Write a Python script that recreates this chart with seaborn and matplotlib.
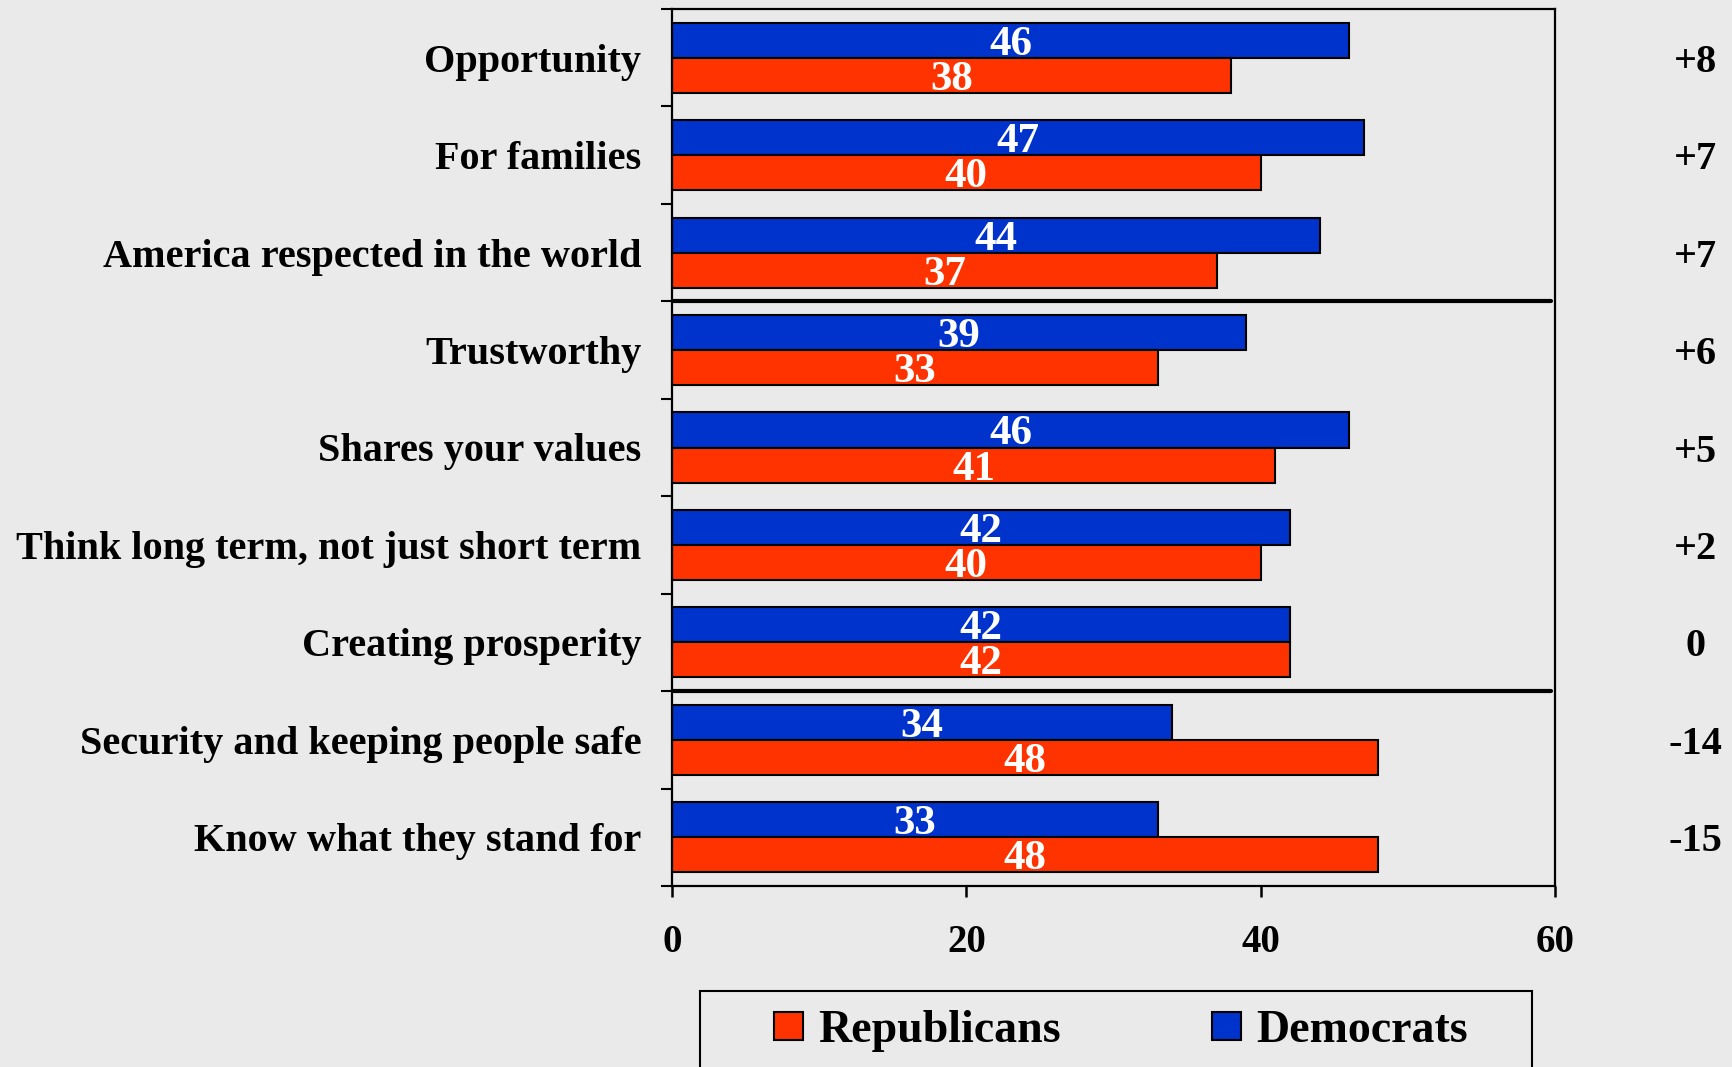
import pandas as pd
import seaborn as sns
import matplotlib.pyplot as plt
from matplotlib.patches import Patch, Rectangle
from matplotlib.ticker import FixedLocator

CATEGORIES = ["Opportunity", "For families", "America respected in the world",
              "Trustworthy", "Shares your values", "Think long term, not just short term",
              "Creating prosperity", "Security and keeping people safe", "Know what they stand for"]
DEMOCRATS = [46, 47, 44, 39, 46, 42, 42, 34, 33]
REPUBLICANS = [38, 40, 37, 33, 41, 40, 42, 48, 48]
GAP_LABELS = ["+8", "+7", "+7", "+6", "+5", "+2", "0", "-14", "-15"]
GROUP_SIZES = [3, 4, 2]
X_TICKS = [0, 20, 40, 60]

BG = "#EAEAEA"
COLORS = {"Democrats": "#0033CC", "Republicans": "#FF3300"}
W, H = 1733, 1067

sns.set_style("white", {"axes.facecolor": BG, "figure.facecolor": BG,
                        "text.color": "black", "axes.labelcolor": "black",
                        "xtick.color": "black", "ytick.color": "black"})
plt.rcParams["font.family"] = ["Liberation Serif", "DejaVu Serif"]
plt.rcParams["font.weight"] = "bold"

df = pd.DataFrame({
    "category": CATEGORIES * 2,
    "value": DEMOCRATS + REPUBLICANS,
    "party": ["Democrats"] * len(CATEGORIES) + ["Republicans"] * len(CATEGORIES),
})

fig = plt.figure(figsize=(W / 100, H / 100), dpi=100)
ax = fig.add_axes([672 / W, 1 - 886 / H, 883 / W, 877 / H])

sns.barplot(data=df, y="category", x="value", hue="party", order=CATEGORIES,
            hue_order=["Democrats", "Republicans"], palette=COLORS, orient="h",
            width=0.72, saturation=1, edgecolor="black", linewidth=1.5,
            legend=False, ax=ax)

for cont in ax.containers:
    anns = ax.bar_label(cont, label_type="center", color="white", fontsize=31,
                        fontweight="bold")
    for a in anns:
        a.set_va("center_baseline")

ax.set_xlim(0, 60)
ax.set_ylim(len(CATEGORIES) - 0.5, -0.5)
ax.set_xticks(X_TICKS)
ax.set_xlabel("")
ax.set_ylabel("")

# category labels without ticks; ticks on the boundaries
ax.tick_params(axis="y", which="major", length=0, pad=22, labelsize=29)
ax.yaxis.set_minor_locator(FixedLocator([i - 0.5 for i in range(len(CATEGORIES) + 1)]))
ax.tick_params(axis="y", which="minor", length=8, width=1.5, direction="out", left=True)
ax.tick_params(axis="x", length=8, width=1.8, direction="out", bottom=True,
               pad=19, labelsize=28)
for lab in ax.get_xticklabels() + ax.get_yticklabels():
    lab.set_fontweight("bold")

for sp in ax.spines.values():
    sp.set_visible(True)
    sp.set_color("black")
    sp.set_linewidth(1.6)

# group separators
pos = 0
for size in GROUP_SIZES[:-1]:
    pos += size
    ax.axhline(pos - 0.5, xmin=0, xmax=0.995, color="black", lw=3)

# gap column on the right
trans = ax.get_yaxis_transform()
for i, txt in enumerate(GAP_LABELS):
    ax.text(1.159, i, txt, transform=trans, ha="center", va="center_baseline",
            fontsize=29, fontweight="bold", clip_on=False)

# legend box, running off the bottom edge
fig.patches.append(Rectangle((700 / W, -0.02), 832 / W, 0.02 + (H - 991) / H,
                             transform=fig.transFigure, facecolor=BG,
                             edgecolor="black", lw=1.5))
handles = [Patch(facecolor=COLORS["Republicans"], edgecolor="black", lw=1.5, label="Republicans"),
           Patch(facecolor=COLORS["Democrats"], edgecolor="black", lw=1.5, label="Democrats")]
fig.legend(handles=handles, loc="center", ncol=2,
           bbox_to_anchor=(1121 / W, 1 - 1031 / H),
           prop={"family": "Liberation Serif", "weight": "bold", "size": 33},
           frameon=False, handlelength=0.63, handleheight=0.57,
           handletextpad=0.34, columnspacing=3.3, borderaxespad=0, borderpad=0)

fig.savefig("out.png", dpi=100, facecolor=BG)
